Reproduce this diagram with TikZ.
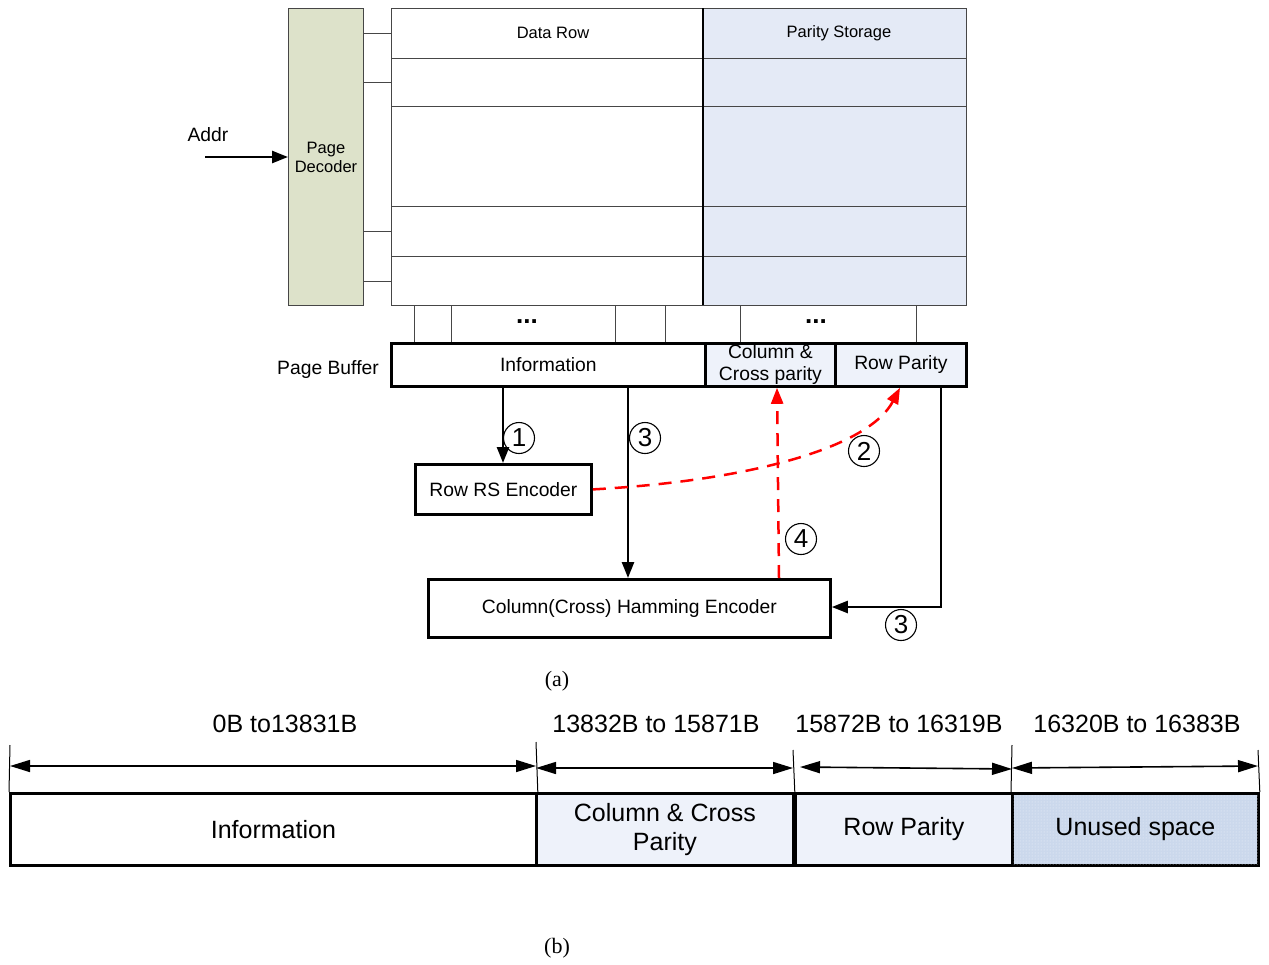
\documentclass[tikz,border=0pt]{standalone}
\usepackage{fontspec}
\setmainfont{Liberation Sans}
\newfontfamily\capserif{Liberation Serif}
\usetikzlibrary{arrows.meta,patterns}
\definecolor{decfill}{RGB}{221,226,202}
\definecolor{parfill}{RGB}{228,234,246}
\definecolor{buffill}{RGB}{238,242,250}
\definecolor{unfill}{RGB}{203,216,236}
\definecolor{gridc}{RGB}{70,70,70}
\begin{document}
\begin{tikzpicture}[x=1pt,y=-1pt,
  small/.style={font=\fontsize{16.5}{19}\selectfont},
  mid/.style={font=\fontsize{19.3}{22}\selectfont},
  big/.style={font=\fontsize{25}{29}\selectfont},
  thickbox/.style={draw=black,line width=2.8pt,inner sep=0pt,anchor=north west},
  gridl/.style={draw=gridc,line width=1pt},
  arr/.style={line width=2.5pt,-{Triangle[length=16pt,width=12pt]}},
  redarr/.style={draw=red,line width=2.5pt,dash pattern=on 13pt off 9pt,-{Triangle[length=16pt,width=12pt]}},
  circ/.style={circle,draw,line width=1.1pt,minimum size=31pt,inner sep=0pt,font=\fontsize{26}{28}\selectfont},
  dimarr/.style={line width=1.6pt,{Triangle[length=20pt,width=12pt]}-{Triangle[length=20pt,width=12pt]}},
  tick/.style={line width=1pt},
  captext/.style={font=\capserif\fontsize{22}{24}\selectfont},
  dotsl/.style={font=\fontsize{26}{28}\selectfont\bfseries}
]
\useasboundingbox (0,0) rectangle (1269,964);

% ---------- (a) memory array ----------
\node[draw=gridc,line width=1pt,fill=decfill,minimum width=75pt,minimum height=297pt,anchor=north west,inner sep=0pt,small,align=center] (dec) at (288,8) {Page\\Decoder};
\node[draw=gridc,line width=1pt,fill=white,minimum width=312pt,minimum height=297pt,anchor=north west,inner sep=0pt] (data) at (391,8) {};
\node[draw=gridc,line width=1pt,fill=parfill,minimum width=263pt,minimum height=297pt,anchor=north west,inner sep=0pt] (par) at (703,8) {};
\foreach \yy in {58,106,206,256} {\draw[gridl] (391,\yy) -- (966,\yy);}
\draw[line width=2.6pt] (703,8) -- (703,305);
\node[small] (drlab) at (553,33) {Data Row};
\node[small] (pslab) at (839,33) {Parity Storage};
\foreach \yy in {33,82,231,281} {\draw[gridl] (363,\yy) -- (391,\yy);}

% Addr
\node[mid] (addr) at (208,135) {Addr};
\coordinate (addrs) at (205,157);
\draw[arr] (addrs) -- (dec.west |- addrs);

% bit lines
\foreach \xx in {414,451,615,665,740,916} {\draw[gridl] (\xx,305) -- (\xx,343);}
\node[dotsl] (dots1) at (527,322) {...};
\node[dotsl] (dots2) at (816,322) {...};

% page buffer
\node[mid] (pblab) at (328,370) {Page Buffer};
\node[thickbox,fill=white,minimum width=314pt,minimum height=43pt,mid] (info) at (390,342) {Information};
\node[thickbox,fill=buffill,minimum width=130pt,minimum height=43pt,align=center,font=\fontsize{19.3}{22}\selectfont] (ccp) at (704,342) {Column \&\\Cross parity};
\node[thickbox,fill=buffill,minimum width=131pt,minimum height=43pt,mid] (rp) at (834,342) {Row Parity};

% encoders
\node[thickbox,fill=white,minimum width=176pt,minimum height=50pt,mid] (rs) at (414,463) {Row RS Encoder};
\node[thickbox,fill=white,minimum width=402pt,minimum height=58pt,mid] (ham) at (427,578) {Column(Cross) Hamming Encoder};

% arrows
\draw[arr] (info.south -| 503,0) -- (rs.north -| 503,0);
\draw[arr] (info.south -| 628,0) -- (ham.north -| 628,0);
\draw[arr] (rp.south -| 941,0) -- (941,607) -- (ham.east |- 0,607);
\draw[redarr] (rs.east) .. controls (760,480) and (870,445) .. (rp.south -| 900,0);
\draw[redarr] (ham.north -| 779,0) -- (ccp.south -| 777,0);

\node[circ] (c1) at (519,438) {1};
\node[circ] (c3a) at (645,438) {3};
\node[circ] (c2) at (864,451) {2};
\node[circ] (c4) at (801,539) {4};
\node[circ] (c3b) at (901,625) {3};

\node[captext] (capa) at (557,681) {(a)};

% ---------- (b) page layout ----------
\node[big] (l1) at (285,724) {0B to13831B};
\node[big] (l2) at (656,724) {13832B to 15871B};
\node[big] (l3) at (899,724) {15872B to 16319B};
\node[big] (l4) at (1137,724) {16320B to 16383B};

\node[thickbox,fill=white,minimum width=526pt,minimum height=72pt,big] (binfo) at (9,792) {Information};
\node[thickbox,fill=buffill,minimum width=257pt,minimum height=72pt,big,align=center,font=\fontsize{25}{29}\selectfont] (bccp) at (535,792) {Column \& Cross\\Parity};
\node[thickbox,fill=buffill,minimum width=217pt,minimum height=72pt,big] (brp) at (794,792) {Row Parity};
\node[thickbox,fill=unfill,minimum width=246pt,minimum height=72pt] (bun) at (1011,792) {};
\fill[pattern=dots,pattern color=white!70!unfill] ([shift={(2pt,-2pt)}]bun.north west) rectangle ([shift={(-2pt,2pt)}]bun.south east);
\node[big] (bunlab) at (bun.center) {Unused space};

\coordinate (t1) at (10,745);
\coordinate (t2) at (536,742);
\coordinate (t3) at (793,750);
\coordinate (t4) at (1012,745);
\coordinate (t5) at (1258,750);
\draw[tick] (t1) -- (binfo.north west);
\draw[tick] (t2) -- (binfo.north east);
\draw[tick] (t3) -- (bccp.north east);
\draw[tick] (t4) -- (bun.north west);
\draw[tick] (t5) -- (bun.north east);
\draw[dimarr] (10,766) -- (536,766);
\draw[dimarr] (536,768) -- (793,768);
\draw[dimarr] (800,767) -- (1012,769);
\draw[dimarr] (1012,768) -- (1258,766);

\node[captext] (capb) at (557,948) {(b)};
\end{tikzpicture}
\end{document}
